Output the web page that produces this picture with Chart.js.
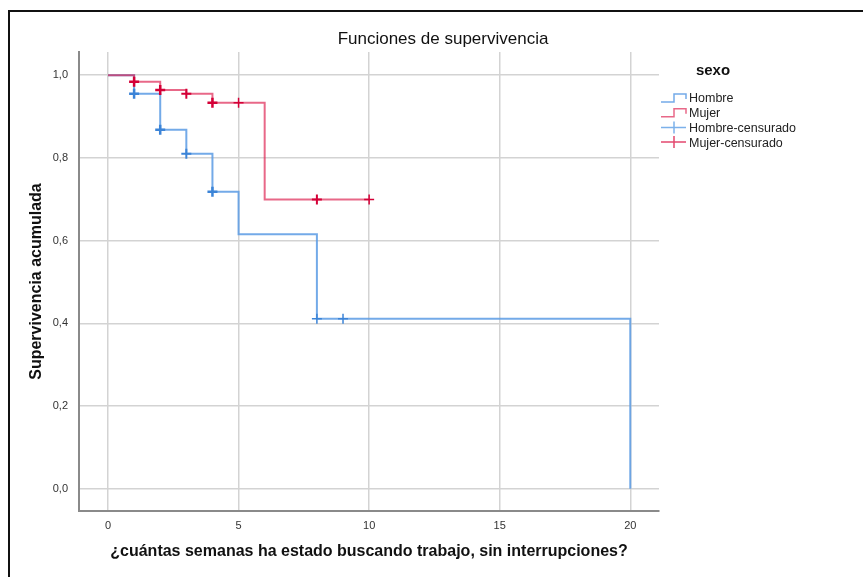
<!DOCTYPE html>
<html>
<head>
<meta charset="utf-8">
<script src="https://cdn.jsdelivr.net/npm/chart.js@4"></script>
<style>
  html, body { margin: 0; padding: 0; background: #fff; }
  canvas { display: block; }
</style>
</head>
<body>
<canvas id="survChart" width="863" height="577"></canvas>
<script>
// Kaplan-Meier data
const hombreTimes = [0, 1, 2, 3, 4, 5, 8, 20];
const hombreSurv = [1, 0.955, 0.868, 0.810, 0.718, 0.615, 0.411, 0];
const mujerTimes = [0, 1, 2, 3, 4, 6, 10];
const mujerSurv = [1, 0.984, 0.964, 0.955, 0.933, 0.699, 0.699];
const hombreCensTimes = [1, 2, 3, 4, 8, 9];
const hombreCensSurv = [0.955, 0.868, 0.810, 0.718, 0.411, 0.411];
const mujerCensTimes = [1, 2, 3, 4, 5, 8, 10];
const mujerCensSurv = [0.984, 0.964, 0.955, 0.933, 0.933, 0.699, 0.699];
const xTicks = [0, 5, 10, 15, 20];
const yTicks = [0, 0.2, 0.4, 0.6, 0.8, 1.0];
const legendLabels = ['Hombre', 'Mujer', 'Hombre-censurado', 'Mujer-censurado'];

const blueLine = 'rgba(90, 155, 228, 0.85)';
const redLine = 'rgba(222, 40, 85, 0.7)';
const blueMark = 'rgb(60, 132, 215)';
const redMark = 'rgb(212, 0, 55)';
const fontFam = '"Liberation Sans", Arial, sans-serif';

const pts = (xs, ys) => xs.map((x, i) => ({ x: x, y: ys[i] }));

const survCanvas = document.getElementById('survChart');

const decorPlugin = {
  id: 'decor',
  beforeDraw(chart) {
    const ctx = chart.ctx;
    ctx.save();
    ctx.fillStyle = '#fff';
    ctx.fillRect(0, 0, chart.width, chart.height);
    ctx.restore();
  },
  afterDraw(chart) {
    const ctx = chart.ctx;
    ctx.save();
    // frame
    ctx.strokeStyle = '#111';
    ctx.lineWidth = 2;
    ctx.beginPath();
    ctx.moveTo(9, 577);
    ctx.lineTo(9, 11);
    ctx.lineTo(863, 11);
    ctx.stroke();

    // title
    ctx.fillStyle = '#111';
    ctx.font = '17px ' + fontFam;
    ctx.textAlign = 'center';
    ctx.textBaseline = 'middle';
    ctx.fillText('Funciones de supervivencia', 443, 39);

    // legend
    ctx.font = 'bold 15px ' + fontFam;
    ctx.fillText('sexo', 713, 71);
    ctx.font = '12.5px ' + fontFam;
    ctx.textAlign = 'left';
    const colors = [blueLine, redLine, 'rgba(110, 168, 232, 0.9)', 'rgba(222, 40, 85, 0.85)'];
    legendLabels.forEach((lab, i) => {
      const y = 98 + i * 14.7;
      ctx.strokeStyle = colors[i];
      ctx.lineWidth = 1.5;
      ctx.beginPath();
      if (i < 2) {
        ctx.moveTo(661, y + 4);
        ctx.lineTo(674, y + 4);
        ctx.lineTo(674, y - 4);
        ctx.lineTo(686, y - 4);
        ctx.lineTo(686, y + 1);
      } else {
        ctx.moveTo(661, y);
        ctx.lineTo(686, y);
        ctx.moveTo(674, y - 6);
        ctx.lineTo(674, y + 6);
      }
      ctx.stroke();
      ctx.fillStyle = '#222';
      ctx.fillText(lab, 689, y + 1);
    });
    ctx.restore();
  }
};

const survChart = new Chart(survCanvas, {
  type: 'scatter',
  data: {
    datasets: [
      {
        label: 'Mujer-censurado',
        data: pts(mujerCensTimes, mujerCensSurv),
        showLine: false,
        pointStyle: 'cross',
        pointRadius: 5,
        borderColor: redMark,
        borderWidth: [2.5, 2.5, 2, 2.5, 1.5, 2, 1.5]
      },
      {
        label: 'Hombre-censurado',
        data: pts(hombreCensTimes, hombreCensSurv),
        showLine: false,
        pointStyle: 'cross',
        pointRadius: 5,
        borderColor: blueMark,
        borderWidth: [2.5, 2.5, 2, 2.5, 1.5, 1.5]
      },
      {
        label: 'Mujer',
        data: pts(mujerTimes, mujerSurv),
        showLine: true,
        stepped: true,
        pointRadius: 0,
        borderColor: redLine,
        borderWidth: 2
      },
      {
        label: 'Hombre',
        data: pts(hombreTimes, hombreSurv),
        showLine: true,
        stepped: true,
        pointRadius: 0,
        borderColor: blueLine,
        borderWidth: 2
      }
    ]
  },
  options: {
    responsive: false,
    animation: false,
    layout: { padding: { top: 52, right: 204, left: 0, bottom: 0 } },
    plugins: {
      legend: { display: false },
      title: { display: false },
      tooltip: { enabled: false }
    },
    scales: {
      x: {
        type: 'linear',
        min: -1.11,
        max: 21.1,
        afterBuildTicks: (scale) => { scale.ticks = xTicks.map(v => ({ value: v })); },
        afterFit: (scale) => { scale.height = 66; },
        grid: { color: '#d3d3d3', lineWidth: 1.5, drawTicks: false },
        border: { color: '#8a8a8a', width: 2 },
        ticks: {
          padding: 8,
          color: '#333',
          font: { family: fontFam, size: 11 },
          callback: (v) => String(v)
        },
        title: {
          display: true,
          text: '¿cuántas semanas ha estado buscando trabajo, sin interrupciones?',
          color: '#111',
          font: { family: fontFam, size: 16, weight: 'bold' },
          padding: { top: 0, bottom: 16 }
        }
      },
      y: {
        type: 'linear',
        min: -0.054,
        max: 1.056,
        afterBuildTicks: (scale) => { scale.ticks = yTicks.map(v => ({ value: v })); },
        afterFit: (scale) => { scale.width = 79; },
        grid: { color: '#d3d3d3', lineWidth: 1.5, drawTicks: false },
        border: { color: '#8a8a8a', width: 2 },
        ticks: {
          padding: 11,
          color: '#333',
          font: { family: fontFam, size: 11 },
          callback: (v) => v.toFixed(1).replace('.', ',')
        },
        title: {
          display: true,
          text: 'Supervivencia acumulada',
          color: '#111',
          font: { family: fontFam, size: 16, weight: 'bold' },
          padding: { top: 27, bottom: 0 }
        }
      }
    }
  },
  plugins: [decorPlugin]
});
</script>
</body>
</html>
